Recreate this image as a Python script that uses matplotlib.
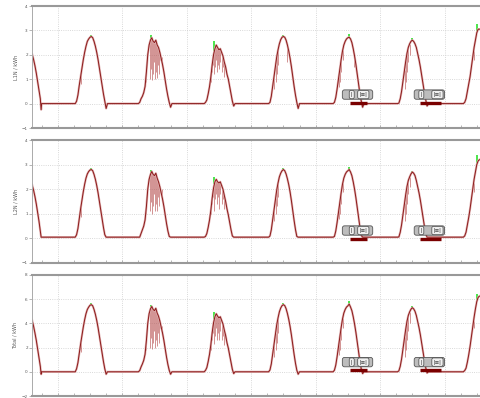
import numpy as np
import matplotlib.pyplot as plt

# sample times (hour of day)
first_hours = [14.4, 15.0, 15.5, 16.0, 16.5, 17.0, 17.5, 17.8, 18.0, 18.5]
day_hours = [6.0, 6.5, 7.0, 7.5, 8.0, 8.5, 9.0, 9.5, 10.0, 10.5, 11.0, 11.5, 12.0,
             12.5, 13.0, 13.5, 14.0, 14.5, 15.0, 15.5, 16.0, 16.5, 17.0, 17.5, 18.0, 18.5]
last_hours = [6.0, 6.5, 7.0, 7.5, 8.0, 8.5, 9.0, 9.5, 10.0, 10.5, 11.0, 11.5, 12.0, 12.5, 13.0]

# L1N
l1_first = [2.05, 1.8, 1.55, 1.25, 0.9, 0.55, 0.2, -0.25, 0, 0]
l1_days = [
    [0, 0, 0.1, 0.35, 0.75, 1.1, 1.45, 1.8, 2.1, 2.35, 2.55, 2.65, 2.72, 2.75, 2.7, 2.55, 2.35, 2.1, 1.8, 1.45, 1.1, 0.75, 0.4, 0.1, -0.2, 0],
    [0, 0.05, 0.2, 0.3, 0.45, 0.7, 1.3, 2.0, 2.4, 2.6, 2.7, 2.55, 2.5, 2.6, 2.4, 2.3, 2.1, 1.85, 1.6, 1.3, 0.95, 0.6, 0.3, 0.05, -0.15, 0],
    [0, 0, 0.05, 0.15, 0.4, 0.7, 1.1, 1.6, 2.0, 2.25, 2.4, 2.3, 2.2, 2.25, 2.1, 1.95, 1.7, 1.5, 1.2, 1.0, 0.7, 0.4, 0.1, -0.1, 0, 0],
    [0, 0, 0.05, 0.3, 0.7, 1.1, 1.5, 1.9, 2.2, 2.45, 2.62, 2.72, 2.75, 2.72, 2.6, 2.4, 2.15, 1.85, 1.5, 1.1, 0.7, 0.35, 0.05, -0.2, 0, 0],
    [0, 0, 0.05, 0.25, 0.6, 1.0, 1.4, 1.8, 2.15, 2.4, 2.55, 2.65, 2.7, 2.72, 2.65, 2.5, 2.25, 1.95, 1.6, 1.2, 0.8, 0.4, 0.1, -0.15, 0, 0],
    [0, 0, 0.02, 0.2, 0.5, 0.9, 1.3, 1.7, 2.05, 2.3, 2.45, 2.55, 2.6, 2.55, 2.45, 2.3, 2.05, 1.8, 1.5, 1.15, 0.8, 0.45, 0.15, -0.1, 0, 0],
]
l1_last = [0, 0, 0, 0.05, 0.2, 0.5, 0.8, 1.1, 1.5, 1.9, 2.3, 2.6, 2.9, 3.05, 3.05]

# L2N
l2_first = [2.2, 1.95, 1.7, 1.4, 1.05, 0.7, 0.3, 0.05, 0.05, 0.05]
l2_days = [
    [0.05, 0.05, 0.15, 0.4, 0.8, 1.2, 1.55, 1.9, 2.2, 2.45, 2.62, 2.72, 2.78, 2.8, 2.75, 2.6, 2.4, 2.15, 1.85, 1.5, 1.15, 0.8, 0.45, 0.15, 0.05, 0.05],
    [0.05, 0.05, 0.2, 0.35, 0.5, 0.75, 1.3, 2.0, 2.4, 2.6, 2.72, 2.6, 2.55, 2.65, 2.45, 2.3, 2.1, 1.85, 1.6, 1.3, 0.95, 0.6, 0.3, 0.08, 0.05, 0.05],
    [0.05, 0.05, 0.08, 0.2, 0.45, 0.75, 1.15, 1.65, 2.05, 2.3, 2.4, 2.3, 2.25, 2.3, 2.15, 2.0, 1.75, 1.5, 1.2, 0.95, 0.65, 0.35, 0.1, 0.05, 0.05, 0.05],
    [0.05, 0.05, 0.1, 0.35, 0.75, 1.15, 1.55, 1.95, 2.25, 2.5, 2.65, 2.75, 2.8, 2.75, 2.62, 2.42, 2.18, 1.88, 1.52, 1.12, 0.72, 0.36, 0.08, 0.05, 0.05, 0.05],
    [0.05, 0.05, 0.08, 0.3, 0.65, 1.05, 1.45, 1.85, 2.2, 2.45, 2.6, 2.7, 2.75, 2.8, 2.7, 2.55, 2.3, 2.0, 1.65, 1.25, 0.85, 0.45, 0.12, 0.05, 0.05, 0.05],
    [0.05, 0.05, 0.06, 0.25, 0.55, 0.95, 1.35, 1.75, 2.1, 2.35, 2.5, 2.62, 2.7, 2.65, 2.55, 2.35, 2.1, 1.85, 1.55, 1.2, 0.85, 0.5, 0.18, 0.05, 0.05, 0.05],
]
l2_last = [0.05, 0.05, 0.05, 0.1, 0.25, 0.55, 0.85, 1.2, 1.6, 2.0, 2.4, 2.7, 3.0, 3.15, 3.2]

# Total
tot_first = [4.3, 3.75, 3.2, 2.6, 1.9, 1.2, 0.45, -0.2, 0, 0]
tot_days = [
    [0, 0, 0.25, 0.75, 1.55, 2.3, 3.0, 3.7, 4.3, 4.8, 5.15, 5.35, 5.5, 5.55, 5.45, 5.15, 4.75, 4.25, 3.65, 2.95, 2.25, 1.55, 0.85, 0.25, -0.2, 0],
    [0, 0.1, 0.4, 0.65, 0.95, 1.45, 2.6, 4.0, 4.8, 5.2, 5.4, 5.15, 5.05, 5.25, 4.85, 4.6, 4.2, 3.7, 3.2, 2.6, 1.9, 1.2, 0.6, 0.12, -0.2, 0],
    [0, 0, 0.12, 0.35, 0.85, 1.45, 2.25, 3.25, 4.05, 4.55, 4.8, 4.6, 4.45, 4.55, 4.25, 3.95, 3.45, 3.0, 2.4, 1.95, 1.35, 0.75, 0.2, -0.15, 0, 0],
    [0, 0, 0.15, 0.65, 1.45, 2.25, 3.05, 3.85, 4.45, 4.95, 5.27, 5.47, 5.55, 5.47, 5.22, 4.82, 4.33, 3.73, 3.02, 2.22, 1.42, 0.71, 0.13, -0.2, 0, 0],
    [0, 0, 0.13, 0.55, 1.25, 2.05, 2.85, 3.65, 4.35, 4.85, 5.15, 5.35, 5.45, 5.6, 5.35, 5.05, 4.55, 3.95, 3.25, 2.45, 1.65, 0.85, 0.22, -0.15, 0, 0],
    [0, 0, 0.08, 0.45, 1.05, 1.85, 2.65, 3.45, 4.15, 4.65, 4.95, 5.17, 5.3, 5.2, 5.0, 4.65, 4.15, 3.65, 3.05, 2.35, 1.65, 0.95, 0.33, -0.1, 0, 0],
]
tot_last = [0, 0, 0, 0.1, 0.3, 0.8, 1.4, 2.1, 2.9, 3.7, 4.5, 5.2, 5.8, 6.15, 6.25]

# short drops (time in days, low value)
l1_dips = [(0.36, 0.8), (1.37, 0.9), (1.43, 1.0), (1.445, 1.4), (1.46, 0.95), (1.475, 1.2), (1.49, 1.7),
           (1.505, 1.0), (1.52, 1.3), (1.535, 1.05), (1.55, 1.6), (1.565, 1.2), (1.58, 1.8), (1.62, 1.9),
           (2.38, 0.9), (2.40, 1.3), (2.415, 1.6), (2.43, 1.2), (2.445, 1.5), (2.46, 1.8), (2.475, 1.3),
           (2.49, 1.6), (2.505, 1.4), (2.52, 1.7), (2.54, 1.3), (2.56, 1.5), (2.58, 1.1),
           (3.36, 0.6), (3.38, 0.9), (3.40, 1.2), (3.42, 1.6), (3.55, 1.7),
           (4.36, 0.7), (4.38, 0.9), (4.40, 1.3), (4.42, 1.8), (4.60, 1.5),
           (5.38, 0.6), (5.40, 0.9), (5.42, 1.3), (5.44, 1.7), (5.46, 2.0), (6.45, 1.8)]
l2_dips = [(0.36, 0.85), (1.37, 1.0), (1.43, 1.1), (1.445, 1.5), (1.46, 1.0), (1.475, 1.3), (1.49, 1.8),
           (1.505, 1.1), (1.52, 1.4), (1.535, 1.1), (1.55, 1.7), (1.565, 1.3), (1.58, 1.9), (1.62, 2.0),
           (2.38, 1.0), (2.40, 1.4), (2.415, 1.7), (2.43, 1.1), (2.445, 1.6), (2.46, 1.8), (2.475, 1.4),
           (2.49, 1.7), (2.505, 1.2), (2.52, 1.8), (2.54, 1.4), (2.56, 1.6), (2.58, 1.2),
           (3.36, 0.7), (3.38, 1.0), (3.40, 1.3), (3.42, 1.7),
           (4.36, 0.8), (4.38, 1.0), (4.40, 1.4), (4.42, 1.9),
           (5.38, 0.7), (5.40, 1.0), (5.42, 1.4), (5.44, 1.8), (5.46, 2.1), (6.45, 1.9)]
tot_dips = [(0.36, 1.6), (1.37, 1.8), (1.43, 2.0), (1.445, 2.8), (1.46, 1.9), (1.475, 2.4), (1.49, 3.4),
            (1.505, 2.0), (1.52, 2.6), (1.535, 2.1), (1.55, 3.2), (1.565, 2.4), (1.58, 3.6), (1.62, 3.8),
            (2.38, 1.8), (2.40, 2.6), (2.415, 3.2), (2.43, 2.3), (2.445, 3.0), (2.46, 3.6), (2.475, 2.6),
            (2.49, 3.2), (2.505, 2.6), (2.52, 3.4), (2.54, 2.6), (2.56, 3.0), (2.58, 2.2),
            (3.36, 1.2), (3.38, 1.8), (3.40, 2.4), (3.42, 3.2),
            (4.36, 1.4), (4.38, 1.8), (4.40, 2.6), (4.42, 3.6),
            (5.38, 1.2), (5.40, 1.8), (5.42, 2.6), (5.44, 3.4), (5.46, 4.0), (6.45, 3.6)]

# green maxima near the peaks (time in days, high value)
l1_max = [(0.52, 2.82), (1.45, 2.8), (2.43, 2.55), (3.5, 2.8), (4.52, 2.85), (5.5, 2.68), (6.51, 3.25)]
l2_max = [(0.52, 2.86), (1.45, 2.8), (2.43, 2.5), (3.5, 2.85), (4.52, 2.9), (5.5, 2.76), (6.51, 3.4)]
tot_max = [(0.52, 5.65), (1.45, 5.55), (2.43, 4.95), (3.5, 5.65), (4.52, 5.85), (5.5, 5.45), (6.51, 6.45)]

# event markers: (left cell, right cell) day positions for each group
event_groups = [(4.56, 4.74), (5.64, 5.89)]


def build(first, days, last):
    t = [h / 24 - 1 for h in first_hours]
    v = list(first)
    for k, vals in enumerate(days):
        t += [k + h / 24 for h in day_hours]
        v += vals
    t += [len(days) + h / 24 for h in last_hours]
    v += last
    return np.array(t), np.array(v)


panels = [
    ("L1N / kWh", build(l1_first, l1_days, l1_last), l1_dips, l1_max, (-1, 4), [-1, 0, 1, 2, 3, 4], 0.37),
    ("L2N / kWh", build(l2_first, l2_days, l2_last), l2_dips, l2_max, (-1, 4), [-1, 0, 1, 2, 3, 4], 0.32),
    ("Total / kWh", build(tot_first, tot_days, tot_last), tot_dips, tot_max, (-2, 8), [-2, 0, 2, 4, 6, 8], 0.8),
]
positions = [(128, 122), (263, 123), (396, 121)]

fig = plt.figure(figsize=(4.8, 3.98), dpi=100)

for (label, (t, v), dips, maxes, ylim, yticks, ev_y), (bot, h) in zip(panels, positions):
    ax = fig.add_axes([32 / 480, 1 - bot / 398, 477 / 480, h / 398])
    ax.set_xlim(-0.40, 7.0)
    ax.set_ylim(*ylim)

    dt = [d[0] for d in dips]
    dl = [d[1] for d in dips]
    ax.vlines(dt, dl, np.interp(dt, t, v), color="#b54a4a", lw=0.7, alpha=0.6)
    mt = [m[0] for m in maxes]
    mh = [m[1] for m in maxes]
    ax.vlines(mt, np.interp(mt, t, v), mh, color="#2ee02e", lw=1.2)
    ax.plot(t, v, color="#e2b4b4", lw=1.6)
    ax.plot(t, v, color="#8b1a1a", lw=0.7)

    # event boxes
    span = ylim[1] - ylim[0]
    for x0, x1 in event_groups:
        ax.hlines(ev_y - span * 0.065, x0 - 0.02, x1 + 0.05, color="#7a0000", lw=2.4)
        ax.text((x0 + x1) / 2, ev_y, "             ", fontsize=4.5, ha="center", va="center",
                bbox=dict(boxstyle="round,pad=0.35", fc="#bdbdbd", ec="#555555", lw=0.6))
        ax.text(x0, ev_y, "ǀ", fontsize=4, ha="center", va="center", color="#333333",
                bbox=dict(boxstyle="round,pad=0.3", fc="#f0f0f0", ec="#444444", lw=0.5))
        ax.text(x1, ev_y, "ǀ≡ǀ", fontsize=4, ha="center", va="center", color="#333333",
                bbox=dict(boxstyle="round,pad=0.3", fc="#f0f0f0", ec="#444444", lw=0.5))

    ax.set_xticks(range(0, 8))
    ax.set_xticklabels([])
    ax.set_xticks(np.arange(-0.25, 7.0, 0.25), minor=True)
    ax.tick_params(axis="x", which="both", direction="in", length=2, color="#999999", width=0.5)
    ax.set_yticks(yticks)
    ax.tick_params(axis="y", labelsize=3, labelcolor="#555555", length=2, width=0.5, color="#999999", pad=1)
    ax.grid(True, color="#cccccc", linestyle=":", lw=0.6)
    ax.set_ylabel(label, fontsize=3.5, color="#555555")
    ax.yaxis.set_label_coords(-14 / 477, 0.5)

    ax.spines["right"].set_visible(False)
    ax.spines["top"].set_color("#999999")
    ax.spines["top"].set_linewidth(1.5)
    ax.spines["bottom"].set_color("#999999")
    ax.spines["bottom"].set_linewidth(1.5)
    ax.spines["left"].set_color("#aaaaaa")
    ax.spines["left"].set_linewidth(0.7)

fig.savefig("out.png", dpi=100)
